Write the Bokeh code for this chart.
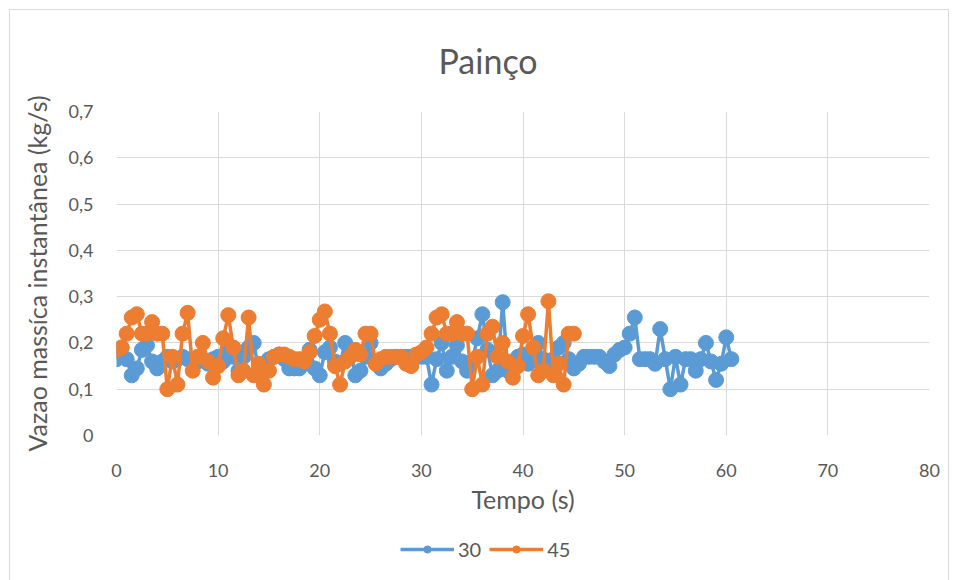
from bokeh.plotting import figure
from bokeh.layouts import column
from bokeh.models import Range1d, FixedTicker, Legend, LegendItem
from bokeh.embed import file_html
from bokeh.resources import INLINE

t30 = [i * 0.5 for i in range(122)]
v30 = [0.165, 0.19, 0.165, 0.13, 0.145, 0.185, 0.195, 0.16, 0.145, 0.16,
       0.17, 0.16, 0.165, 0.17, 0.165, 0.16, 0.16, 0.165, 0.155, 0.165,
       0.17, 0.16, 0.18, 0.17, 0.14, 0.17, 0.19, 0.20, 0.14, 0.15,
       0.165, 0.17, 0.175, 0.165, 0.145, 0.145, 0.145, 0.155, 0.185, 0.145,
       0.13, 0.18, 0.19, 0.16, 0.155, 0.20, 0.185, 0.13, 0.14, 0.17,
       0.20, 0.16, 0.145, 0.155, 0.165, 0.17, 0.17, 0.17, 0.17, 0.17,
       0.17, 0.17, 0.11, 0.165, 0.20, 0.14, 0.17, 0.195, 0.16, 0.14,
       0.16, 0.21, 0.262, 0.185, 0.13, 0.14, 0.288, 0.14, 0.155, 0.17,
       0.175, 0.155, 0.175, 0.20, 0.165, 0.15, 0.165, 0.19, 0.20, 0.165,
       0.145, 0.155, 0.17, 0.17, 0.17, 0.17, 0.16, 0.15, 0.175, 0.185,
       0.19, 0.22, 0.255, 0.165, 0.165, 0.165, 0.155, 0.23, 0.165, 0.10,
       0.17, 0.11, 0.165, 0.165, 0.14, 0.165, 0.20, 0.16, 0.12, 0.155,
       0.212, 0.165]

t45 = [i * 0.5 for i in range(91)]
v45 = [0.185, 0.19, 0.22, 0.255, 0.262, 0.22, 0.22, 0.245, 0.22, 0.22,
       0.10, 0.17, 0.11, 0.22, 0.265, 0.14, 0.17, 0.20, 0.16, 0.125,
       0.15, 0.21, 0.26, 0.19, 0.13, 0.14, 0.255, 0.13, 0.155, 0.11,
       0.14, 0.17, 0.175, 0.175, 0.17, 0.165, 0.165, 0.16, 0.18, 0.215,
       0.25, 0.268, 0.22, 0.15, 0.11, 0.16, 0.17, 0.185, 0.175, 0.22,
       0.22, 0.155, 0.165, 0.17, 0.17, 0.17, 0.17, 0.155, 0.15, 0.175,
       0.18, 0.19, 0.22, 0.255, 0.262, 0.22, 0.22, 0.245, 0.22, 0.22,
       0.10, 0.17, 0.11, 0.22, 0.235, 0.17, 0.20, 0.16, 0.125, 0.15,
       0.215, 0.262, 0.19, 0.13, 0.14, 0.29, 0.13, 0.155, 0.11, 0.22,
       0.22]

series_names = ["30", "45"]
y_ticks = [0, 0.1, 0.2, 0.3, 0.4, 0.5, 0.6, 0.7]
y_labels = ["0", "0,1", "0,2", "0,3", "0,4", "0,5", "0,6", "0,7"]
x_ticks = [0, 10, 20, 30, 40, 50, 60, 70, 80]

FONT = "Lato"
GRAY = "#595959"
BLUE = "#5B9BD5"
ORANGE = "#ED7D31"

p = figure(frame_width=813, frame_height=324, output_backend="svg",
           toolbar_location=None,
           x_range=Range1d(0, 80), y_range=Range1d(0, 0.7),
           min_border_left=116, min_border_right=24, min_border_top=111,
           min_border_bottom=80)
p.outline_line_color = None
p.background_fill_color = "white"
p.border_fill_color = "white"

p.title.text = "Painço"
p.title.text_font = FONT
p.title.text_font_size = "34px"
p.title.text_font_style = "normal"
p.title.text_color = GRAY
p.title.align = "left"
p.title.offset = 322
p.title.standoff = 61

p.xaxis.ticker = FixedTicker(ticks=x_ticks)
p.yaxis.ticker = FixedTicker(ticks=y_ticks)
p.yaxis.major_label_overrides = {k: v for k, v in zip(y_ticks, y_labels)}
for ax in (p.xaxis[0], p.yaxis[0]):
    ax.axis_line_color = None
    ax.major_tick_line_color = None
    ax.minor_tick_line_color = None
    ax.major_label_text_font = FONT
    ax.major_label_text_font_size = "18px"
    ax.major_label_text_color = GRAY
    ax.axis_label_text_font = FONT
    ax.axis_label_text_font_size = "25px"
    ax.axis_label_text_color = GRAY
    ax.axis_label_text_font_style = "normal"
p.xaxis.axis_label = "Tempo (s)"
p.yaxis.axis_label = "Vazao massíca instantânea (kg/s)"
p.xaxis.major_label_standoff = 22
p.xaxis.axis_label_standoff = 4
p.yaxis.major_label_standoff = 17
p.yaxis.axis_label_standoff = 14

p.xgrid.grid_line_color = "#d9d9d9"
p.ygrid.grid_line_color = "#d9d9d9"
p.xgrid.grid_line_width = 1
p.ygrid.grid_line_width = 1

p.line(t30, v30, line_color=BLUE, line_width=3.5)
p.scatter(t30, v30, size=15, fill_color=BLUE, line_color=BLUE)
p.line(t45, v45, line_color=ORANGE, line_width=3.5)
p.scatter(t45, v45, size=15, fill_color=ORANGE, line_color=ORANGE)

# legend strip below the chart (swatch renderers hold no visible data)
lg = figure(width=953, height=65, output_backend="svg", toolbar_location=None,
            x_range=Range1d(0, 1), y_range=Range1d(0, 1),
            min_border=0)
lg.axis.visible = False
lg.grid.visible = False
lg.outline_line_color = None
lg.background_fill_color = "white"
lg.border_fill_color = "white"
nan = float("nan")
items = []
for name, col in zip(series_names, [BLUE, ORANGE]):
    r1 = lg.line([nan], [nan], line_color=col, line_width=3.5)
    r2 = lg.scatter([nan], [nan], size=15, fill_color=col, line_color=col)
    items.append(LegendItem(label=name, renderers=[r1, r2]))
legend = Legend(items=items, orientation="horizontal", location=(284, 20),
                label_text_font=FONT, label_text_font_size="20px",
                label_text_color=GRAY, glyph_width=54, glyph_height=18,
                border_line_color=None, background_fill_alpha=0,
                spacing=8, label_standoff=4, margin=0, padding=2)
lg.add_layout(legend)

layout = column(p, lg, spacing=0)

html = file_html(layout, INLINE)
border = ('<div style="position:fixed;left:9px;top:9px;width:940px;'
          'height:575px;border:1px solid #d9d9d9;pointer-events:none;'
          'box-sizing:border-box;"></div>')
html = html.replace("</body>", border + "</body>")
open("out.html", "w").write(html)
